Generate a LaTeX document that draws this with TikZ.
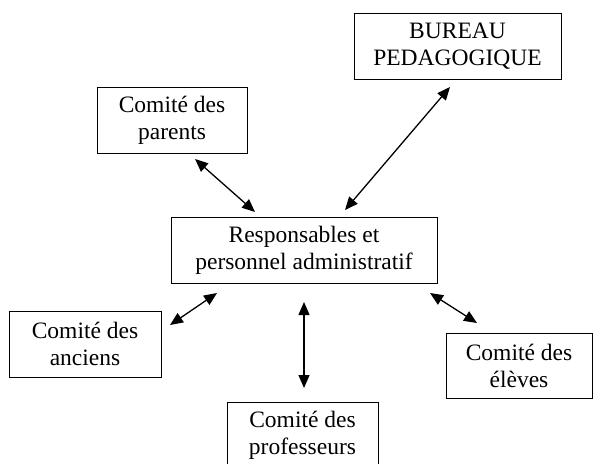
\documentclass[tikz,border=0pt]{standalone}
\usepackage{fontspec}
\setmainfont{Liberation Serif}
\usetikzlibrary{arrows.meta}
\begin{document}
\begin{tikzpicture}[x=1pt,y=-1pt,
  box/.style={draw,line width=1pt,align=center,inner sep=0pt,
    font=\fontsize{23.5}{27}\selectfont},
  link/.style={line width=1.3pt,
    {Triangle[length=13pt,width=11pt]}-{Triangle[length=13pt,width=11pt]}}]
\useasboundingbox (0,0) rectangle (593,463);
\node[box,minimum width=207pt,minimum height=66pt] (bur) at (457.5,46) {BUREAU\\PEDAGOGIQUE};
\node[box,minimum width=150pt,minimum height=66pt] (par) at (172,120) {Comité des\\parents};
\node[box,minimum width=266pt,minimum height=66pt] (resp) at (304,250) {Responsables et\\personnel administratif};
\node[box,minimum width=152pt,minimum height=66pt] (anc) at (85,344) {Comité des\\anciens};
\node[box,minimum width=146pt,minimum height=65pt] (elv) at (519,365.5) {Comité des\\élèves};
\node[box,minimum width=151pt,minimum height=66pt] (prof) at (302.5,435) {Comité des\\professeurs};
\coordinate (p1) at (195,159);
\coordinate (p2) at (255,212);
\coordinate (b1) at (450,87);
\coordinate (b2) at (345,210);
\coordinate (a1) at (217,293);
\coordinate (a2) at (170,325);
\coordinate (e1) at (430,293);
\coordinate (e2) at (477,323);
\coordinate (f1) at (304,302);
\coordinate (f2) at (304,388);
\draw[link] (p1) -- (p2);
\draw[link] (b1) -- (b2);
\draw[link] (a1) -- (a2);
\draw[link] (e1) -- (e2);
\draw[link] (f1) -- (f2);
\end{tikzpicture}
\end{document}
